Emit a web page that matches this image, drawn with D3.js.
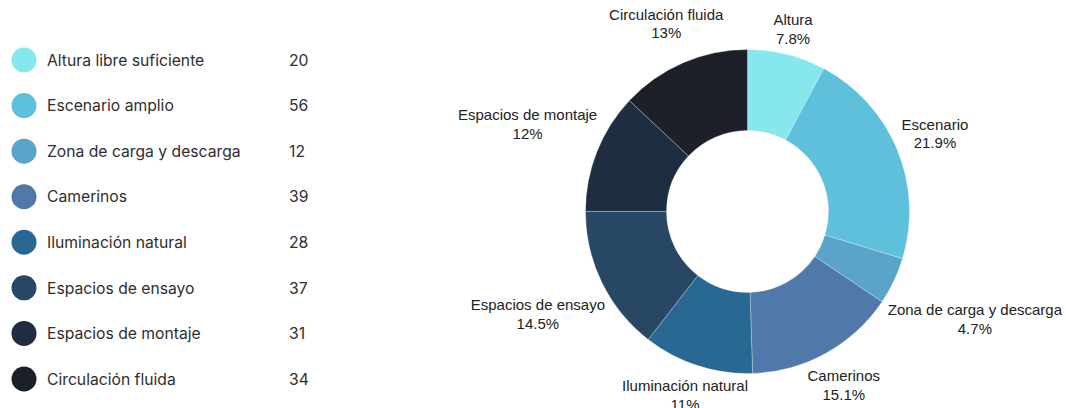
<!DOCTYPE html>
<html>
<head>
<meta charset="utf-8">
<script src="https://cdn.jsdelivr.net/npm/d3@7"></script>
<style>
  html, body { margin: 0; padding: 0; background: #ffffff; }
  svg { display: block; }
</style>
</head>
<body>
<svg id="chart" width="1066" height="408"></svg>
<script>
// Categories as listed in the legend
const categories = [
  "Altura libre suficiente",
  "Escenario amplio",
  "Zona de carga y descarga",
  "Camerinos",
  "Iluminación natural",
  "Espacios de ensayo",
  "Espacios de montaje",
  "Circulación fluida"
];
// Short names used on the donut labels
const sliceNames = [
  "Altura",
  "Escenario",
  "Zona de carga y descarga",
  "Camerinos",
  "Iluminación natural",
  "Espacios de ensayo",
  "Espacios de montaje",
  "Circulación fluida"
];
// Counts shown in the legend
const counts = [20, 56, 12, 39, 28, 37, 31, 34];
// Share of each slice, in percent
const shares = [7.8, 21.9, 4.7, 15.1, 11, 14.5, 12, 13];
const shareLabels = ["7.8%", "21.9%", "4.7%", "15.1%", "11%", "14.5%", "12%", "13%"];
const colors = ["#86e7ec", "#5fc0dc", "#5ba4c9", "#5079aa", "#286893", "#284764", "#1e2e40", "#1b2029"];

const svg = d3.select("#chart");

// ---- Legend ----
const legendFont = "Inter, 'Open Sans', sans-serif";
const legend = svg.append("g");
const rowY = d3.scalePoint().domain(d3.range(categories.length)).range([60, 379]);
const rows = legend.selectAll("g.row").data(categories).join("g")
  .attr("class", "row")
  .attr("transform", (d, i) => `translate(0,${rowY(i)})`);
rows.append("circle").attr("cx", 24).attr("cy", 0).attr("r", 12.5)
  .attr("fill", (d, i) => colors[i]);
rows.append("text").attr("x", 47).attr("y", 0).attr("dy", "0.36em")
  .attr("font-family", legendFont).attr("font-size", 15.7)
  .attr("fill", "#2e2e2e").text(d => d);
rows.append("text").attr("x", 289).attr("y", 0).attr("dy", "0.36em")
  .attr("font-family", legendFont).attr("font-size", 15.7)
  .attr("fill", "#2e2e2e").text((d, i) => counts[i]);

// ---- Donut ----
const cx = 747.5, cy = 211.5, outerR = 162, innerR = 81;
const pie = d3.pie().value(d => d).sort(null);
const arcs = pie(shares);
const arc = d3.arc().innerRadius(innerR).outerRadius(outerR);
const donut = svg.append("g").attr("transform", `translate(${cx},${cy})`);
donut.selectAll("path").data(arcs).join("path")
  .attr("d", arc)
  .attr("fill", (d, i) => colors[i])
  .attr("stroke", "rgba(255,255,255,0.35)")
  .attr("stroke-width", 0.8);

// Labels sit on each slice's mid-angle ray, pushed out by the text box size
const labelFont = "'Liberation Sans', Arial, sans-serif";
const labelSize = 15;
const lineGap = 18.5;
const labelR0 = 165;
const labels = donut.append("g");
arcs.forEach((a, i) => {
  const g = labels.append("g");
  const t1 = g.append("text").attr("text-anchor", "middle")
    .attr("font-family", labelFont).attr("font-size", labelSize).attr("fill", "#222")
    .attr("y", -lineGap / 2).attr("dy", "0.35em").text(sliceNames[i]);
  g.append("text").attr("text-anchor", "middle")
    .attr("font-family", labelFont).attr("font-size", labelSize).attr("fill", "#222")
    .attr("y", lineGap / 2).attr("dy", "0.35em").text(shareLabels[i]);
  const w = t1.node().getComputedTextLength() / 2;
  const h = lineGap;
  const ang = (a.startAngle + a.endAngle) / 2;
  const s = Math.sin(ang), c = Math.cos(ang);
  const r = labelR0 + w * Math.abs(s) + h * Math.abs(c);
  const x = r * s;
  const y = Math.min(-r * c, 408 - cy - 13);
  g.attr("transform", `translate(${x},${y})`);
});
</script>
</body>
</html>
